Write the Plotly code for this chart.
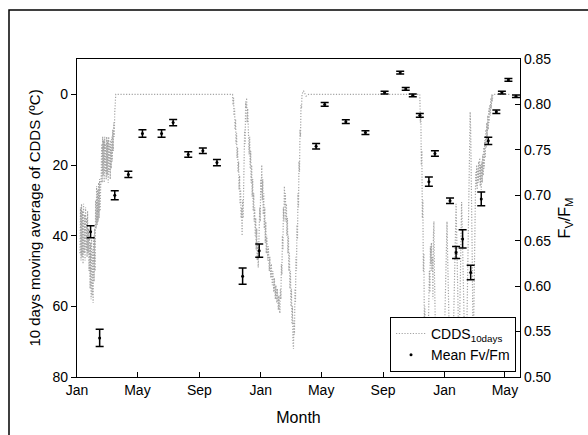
import pandas as pd
import plotly.graph_objects as go

# ---- CDDS 10-day moving average (days since 2009-01-01, value in degC) ----
base_date = "2009-01-01"
cdds_day = [
    6, 7, 8, 9, 10, 11, 12, 13, 14, 15, 16, 17, 18, 19, 20, 21, 22, 23, 24, 25,
    26, 27, 28, 29, 30, 31, 32, 33, 34, 35, 36, 37, 38, 39, 40, 41, 42, 43, 44, 45,
    46, 47, 48, 49, 50, 51, 52, 53, 54, 55, 56, 57, 58, 59, 60, 61, 62, 63, 64, 65,
    66, 67, 68, 69, 70, 71, 72, 73, 74, 75, 76, 77, 120, 200, 260, 309,
    310, 311, 312, 313, 314, 315, 316, 317, 318, 319, 320, 321, 322, 323, 324, 325, 326, 327, 328,
    329, 330, 331, 332, 333, 334, 335, 336, 337, 338, 339, 340, 341, 342, 343, 344, 345, 346, 347,
    348, 349, 350, 351, 352, 353, 354, 355, 356, 357, 358, 359, 360, 361, 362, 363, 364, 365, 366,
    367, 368, 369, 370, 371, 372, 373, 374, 375, 376, 377, 379, 380, 382, 383, 385, 386, 388, 389,
    391, 392, 394, 395, 397, 398, 400, 401, 403, 404, 405, 406, 407, 408, 409, 410, 411, 412, 413,
    414, 415, 416, 417, 418, 419, 420, 421, 422, 423, 424, 425, 426, 427, 428, 429, 430, 431, 432,
    433, 434, 435, 436, 437, 438, 439, 440, 441, 442, 443, 444, 445, 446, 447, 450, 455, 460,
    520, 600, 681,
    682, 683, 684, 685, 686, 687, 688, 689, 690, 691, 692, 693, 694, 695, 696, 697, 698, 699, 700,
    701, 702, 703, 704, 705, 706, 707, 708, 709, 710, 711, 712, 713, 714, 715, 716, 717, 718, 719,
    720, 721, 722, 723, 724, 725, 726, 727, 728, 729, 730, 731, 732, 733, 734, 735, 736, 737, 738,
    739, 740, 741, 742, 743, 744, 745, 746, 747, 748, 749, 750, 751, 752, 753, 754, 755, 756, 757,
    758, 759, 760, 761, 762, 763, 764, 765, 766, 767, 768, 769, 770, 771, 772, 773, 774, 775, 776,
    777, 778, 779, 780, 781, 782, 783, 784, 785, 786, 787, 788, 789, 790, 791, 792, 793, 794, 795,
    796, 797, 798, 799, 800, 801, 802, 803, 804, 805, 806, 807, 808, 809, 810, 811, 812, 813, 814,
    815, 816, 817, 818, 819, 820, 821, 822, 823, 824, 825, 826, 827, 830, 860, 880,
]
cdds_value = [
    45, 32, 47, 31, 46, 33, 48, 31, 45, 34, 47, 32, 44, 35, 46, 33, 45, 38, 50, 40,
    55, 42, 58, 41, 57, 44, 59, 40, 53, 38, 50, 30, 38, 26, 37, 27, 36, 25, 35, 24,
    33, 26, 24, 14, 25, 12, 23, 13, 25, 12, 22, 14, 24, 12, 23, 13, 25, 12, 22, 14,
    24, 13, 21, 12, 19, 10, 16, 8, 12, 5, 3, 0, 0, 0, 0, 0,
    3, 1, 6, 4, 10, 7, 14, 11, 18, 15, 22, 19, 27, 23, 31, 27, 35, 32, 40,
    30, 35, 20, 25, 10, 14, 2, 4, 1, 8, 4, 12, 8, 17, 12, 21, 16, 25, 20,
    29, 24, 33, 28, 36, 32, 40, 35, 44, 38, 47, 42, 49, 40, 44, 32, 36, 24, 28,
    20, 30, 24, 34, 28, 38, 32, 42, 36, 45, 40, 47, 43, 50, 46, 52, 48, 54, 50,
    56, 52, 58, 54, 59, 55, 61, 57, 62, 55, 58, 48, 51, 40, 44, 32, 36, 26, 32,
    28, 36, 31, 40, 35, 45, 40, 50, 45, 55, 50, 60, 55, 65, 60, 70, 72, 64, 68,
    55, 59, 46, 50, 37, 41, 28, 32, 19, 22, 10, 12, 3, 4, 0, -1, 0.5, 0,
    0, 0, 0,
    8, 5, 20, 16, 35, 30, 50, 45, 65, 60, 75, 70, 78, 72, 68, 74, 60, 66, 50,
    56, 43, 48, 42, 50, 46, 58, 40, 36, 50, 62, 70, 76, 72, 78, 74, 76, 68,
    75, 66, 72, 64, 70, 75, 78, 72, 76, 70, 74, 68, 62, 55, 48, 40, 36, 44, 52,
    60, 68, 74, 78, 72, 76, 70, 75, 78, 72, 66, 58, 48, 40, 33, 31, 38, 46, 55,
    64, 72, 76, 65, 52, 40, 32, 30.5, 36, 44, 52, 60, 68, 74, 78, 72, 76, 70, 60,
    48, 36, 24, 14, 8, 5, 10, 18, 30, 45, 60, 72, 65, 50, 38, 28, 22, 26, 20,
    27, 21, 25, 19, 24, 18, 26, 20, 27, 19, 25, 17, 23, 15, 21, 13, 18, 10, 15,
    8, 12, 6, 10, 4, 8, 3, 6, 1, 4, 0, 2, 0, 0, 0, 0,
]

# ---- Mean Fv/Fm with error bars ----
fv_dates = [
    "2009-01-28", "2009-02-15", "2009-03-17", "2009-04-13", "2009-05-11", "2009-06-18",
    "2009-07-11", "2009-08-10", "2009-09-08", "2009-10-06", "2009-11-26", "2009-12-29",
    "2010-04-21", "2010-05-08", "2010-06-19", "2010-07-28", "2010-09-04", "2010-10-05",
    "2010-10-16", "2010-10-30", "2010-11-13", "2010-12-01", "2010-12-13", "2011-01-12",
    "2011-01-24", "2011-02-06", "2011-02-22", "2011-03-15", "2011-03-29", "2011-04-14",
    "2011-04-25", "2011-05-08", "2011-05-23",
]
fv_mean = [
    0.660, 0.543, 0.700, 0.723, 0.768, 0.768, 0.780, 0.745, 0.749, 0.736, 0.611, 0.639,
    0.754, 0.800, 0.781, 0.769, 0.813, 0.835, 0.817, 0.810, 0.788, 0.715, 0.746, 0.694,
    0.637, 0.652, 0.615, 0.696, 0.760, 0.792, 0.813, 0.827, 0.809,
]
fv_err = [
    0.0066, 0.0095, 0.005, 0.0035, 0.004, 0.004, 0.0035, 0.003, 0.003, 0.0035, 0.009, 0.0073,
    0.003, 0.002, 0.002, 0.002, 0.0015, 0.0015, 0.0015, 0.0015, 0.002, 0.005, 0.003, 0.003,
    0.0065, 0.01, 0.008, 0.0075, 0.004, 0.002, 0.0015, 0.0015, 0.0015,
]

x_range = ["2009-01-01", "2011-05-31"]
left_ticks = [0, 20, 40, 60, 80]

cdds_dates = pd.to_datetime(base_date) + pd.to_timedelta(cdds_day, unit="D")

FONT = "Liberation Sans, Arial, Helvetica, sans-serif"

fig = go.Figure()
fig.add_trace(go.Scatter(
    x=cdds_dates, y=cdds_value, mode="lines", name="CDDS<sub>10days</sub>",
    line=dict(color="#a4a4a4", dash="1.2px,1.6px", width=1.2), yaxis="y",
))
fig.add_trace(go.Scatter(
    x=pd.to_datetime(fv_dates), y=fv_mean, mode="markers", name="Mean Fv/Fm",
    marker=dict(color="black", size=3),
    error_y=dict(type="data", array=fv_err, color="black", thickness=1.5, width=4),
    yaxis="y2",
))

fig.update_layout(
    width=588, height=435,
    margin=dict(l=77, r=68, t=59, b=58),
    paper_bgcolor="white", plot_bgcolor="white",
    font=dict(family=FONT, size=14, color="black"),
    showlegend=True,
    legend=dict(
        x=0.991, y=0.016, xanchor="right", yanchor="bottom",
        bgcolor="white", bordercolor="black", borderwidth=1,
        font=dict(size=14), tracegroupgap=0,
    ),
    xaxis=dict(
        type="date", range=x_range, tickformat="%b", dtick="M4", tick0="2009-01-01",
        ticks="inside", ticklen=5, tickcolor="black", showline=True, linecolor="black",
        linewidth=1.2, mirror=True, showgrid=False, zeroline=False,
        title=dict(text="Month", font=dict(size=16), standoff=14),
        tickfont=dict(size=14),
    ),
    yaxis=dict(
        range=[80, -10], tickvals=left_ticks, ticks="outside", ticklen=5,
        tickcolor="black", showline=True, linecolor="black", linewidth=1.2,
        showgrid=False, zeroline=False,
        title=dict(text="10 days moving average of CDDS (ºC)", font=dict(size=15), standoff=8),
        tickfont=dict(size=14),
    ),
    yaxis2=dict(
        overlaying="y", side="right", range=[0.5, 0.85], dtick=0.05, tick0=0.5,
        tickformat=".2f", ticks="inside", ticklen=5, tickcolor="black",
        showline=True, linecolor="black", linewidth=1.2, showgrid=False, zeroline=False,
        title=dict(text="F<sub>V</sub>/F<sub>M</sub>", font=dict(size=16), standoff=8),
        tickfont=dict(size=14),
    ),
    shapes=[dict(
        type="rect", xref="paper", yref="paper",
        x0=-0.1535, x1=1.4, y0=-0.4, y1=1.154,
        line=dict(color="black", width=1.5), layer="above",
    )],
)

fig.write_html("out.html")
